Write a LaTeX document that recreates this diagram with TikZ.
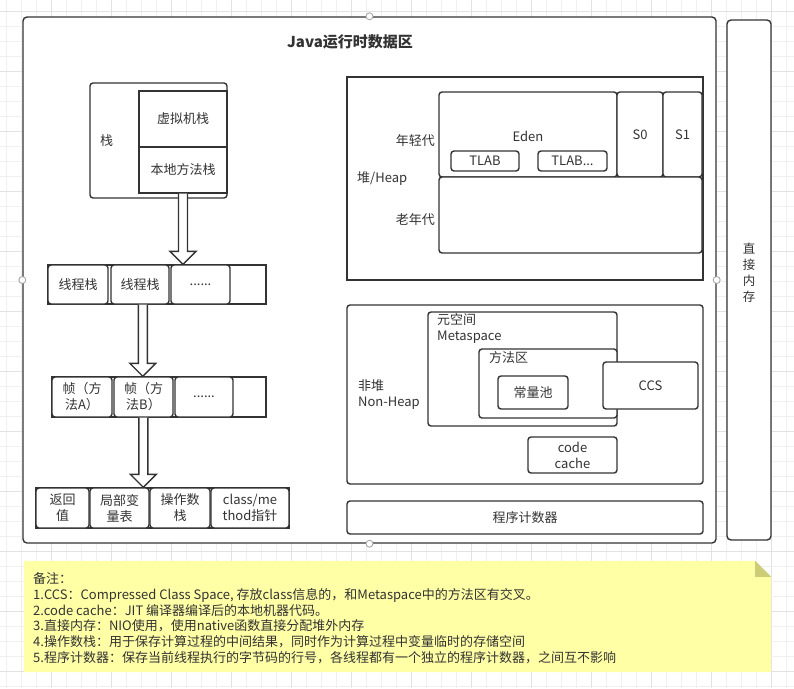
\documentclass[tikz,border=0pt]{standalone}
\usepackage{fontspec}
\setmainfont{Noto Sans CJK SC}
\usetikzlibrary{calc}
\definecolor{ln}{HTML}{333333}
\definecolor{tx}{HTML}{333333}
\definecolor{notefill}{HTML}{FFFFA6}
\definecolor{notefold}{HTML}{CDCD77}
\definecolor{gridminor}{HTML}{F0F0F0}
\definecolor{gridmajor}{HTML}{E2E2E2}
\definecolor{handlec}{HTML}{A0A0A0}
\tikzset{
  bx/.style={draw=ln, line width=1.4pt, fill=white, rounded corners=3pt, inner sep=0pt,
    align=center, text=tx, font=\fontsize{13}{16}\selectfont},
  sq/.style={rounded corners=0pt},
  lbl/.style={inner sep=0pt, align=center, text=tx, font=\fontsize{13}{16}\selectfont},
  handle/.style={circle, draw=handlec, fill=white, line width=0.8pt, minimum size=7pt, inner sep=0pt},
  hollow/.style={draw=ln, line width=1.4pt, fill=white, line join=miter},
}
\newcommand\bnode[7][]{\node[bx,#1,minimum width={#5-#3},minimum height={#6-#4}] (#2) at ({(#3+#5)/2},{(#4+#6)/2}) {#7};}
\newcommand\harrow[2]{%
  \draw[hollow] let \p1=(#1), \p2=(#2) in
    (\x1-4.5pt,\y1) -- (\x1-4.5pt,\y2+13pt) -- (\x1-13pt,\y2+13pt) -- (\x1,\y2)
    -- (\x1+13pt,\y2+13pt) -- (\x1+4.5pt,\y2+13pt) -- (\x1+4.5pt,\y1);}
\begin{document}
\begin{tikzpicture}[x=1pt,y=-1pt]
\useasboundingbox (0,0) rectangle (794,688);
\fill[white] (0,0) rectangle (794,688);
% grid
\foreach \i in {0,...,52}{
  \pgfmathtruncatemacro\m{mod(\i,4)}
  \ifnum\m=3 \draw[gridmajor,line width=0.7pt] ({6.7+15*\i},0) -- ({6.7+15*\i},688);
  \else \draw[gridminor,line width=0.7pt] ({6.7+15*\i},0) -- ({6.7+15*\i},688); \fi}
\foreach \i in {0,...,45}{
  \pgfmathtruncatemacro\m{mod(\i,4)}
  \ifnum\m=0 \draw[gridmajor,line width=0.7pt] (0,{11.7+15*\i}) -- (794,{11.7+15*\i});
  \else \draw[gridminor,line width=0.7pt] (0,{11.7+15*\i}) -- (794,{11.7+15*\i}); \fi}

% main container
\bnode[rounded corners=4pt]{main}{23}{17}{716}{543}{}
\node[lbl, font=\bfseries\fontsize{15}{18}\selectfont] (title) at (350,42) {Java运行时数据区};

% direct memory
\bnode[rounded corners=4pt]{direct}{727}{20}{771}{540}{}
\node[lbl, font=\fontsize{12.5}{16}\selectfont] (directtxt) at (749,273) {直\\接\\内\\存};

% stack
\bnode{stack}{90}{83}{227}{198}{}
\node[lbl] (stacktxt) at (106.5,141) {栈};
\bnode[sq]{vms}{139}{91}{227}{147}{虚拟机栈}
\bnode[sq]{nms}{139}{147}{227}{193}{本地方法栈}

% thread stacks
\bnode[sq]{thr}{48}{265}{266}{304}{}
\bnode{t1}{48}{265}{108}{304}{线程栈}
\bnode{t2}{111}{265}{169}{304}{线程栈}
\bnode{t3}{171}{265}{230}{304}{......}

% frames
\bnode[sq]{frm}{52}{377}{266}{417}{}
\bnode{f1}{52}{377}{112}{417}{帧（方\\法A）}
\bnode{f2}{114}{377}{173}{417}{帧（方\\法B）}
\bnode{f3}{175}{377}{233}{417}{......}

% frame contents
\bnode[sq]{bot}{36}{488}{289}{528}{}
\bnode{b1}{36}{488}{89}{528}{返回\\值}
\bnode{b2}{90}{488}{149}{528}{局部变\\量表}
\bnode{b3}{150}{488}{210}{528}{操作数\\栈}
\bnode{b4}{211}{488}{289}{528}{class/me\\thod指针}

% hollow arrows
\harrow{nms.south}{nms.south |- thr.north}
\coordinate (a2s) at ($(thr.south west)+(95.5,0)$);
\harrow{a2s}{a2s |- frm.north}
\coordinate (a3s) at ($(frm.south west)+(92,0)$);
\harrow{a3s}{a3s |- bot.north}

% heap
\bnode[sq]{heap}{347}{77}{703}{280}{}
\node[lbl, anchor=west] (heaptxt) at (357,179) {堆/Heap};
\bnode{eden}{439}{92}{617}{177}{}
\node[lbl] (edentxt) at (528,136) {Eden};
\bnode{tlab1}{451}{151}{519}{171}{TLAB}
\bnode{tlab2}{538}{151}{607}{171}{TLAB...}
\bnode{s0}{617}{92}{663}{177}{S0}
\bnode{s1}{663}{92}{702}{177}{S1}
\bnode{old}{439}{177}{702}{253}{}
\node[lbl, anchor=east] (youngtxt) at (435,141) {年轻代};
\node[lbl, anchor=east] (oldtxt) at (435,220) {老年代};

% non-heap
\bnode{nonheap}{347}{305}{703}{484}{}
\node[lbl, anchor=west, align=left] (nonheaptxt) at (358,395) {非堆\\Non-Heap};
\bnode{meta}{428}{312}{617}{426}{}
\node[lbl, anchor=west, align=left] (metatxt) at (437,328.5) {元空间\\Metaspace};
\bnode{ma}{479}{349}{617}{418}{}
\node[lbl, anchor=west] (matxt) at (489,358) {方法区};
\bnode{cp}{498}{376}{568}{409}{常量池}
\bnode{ccs}{603}{362}{698}{409}{CCS}
\bnode{cc}{528}{437}{617}{473}{code\\cache}

% program counter
\bnode{pc}{347}{501}{703}{534}{程序计数器}

% selection handles
\node[handle] (h1) at (main.north) {};
\node[handle] (h2) at (main.west) {};
\node[handle] (h3) at (main.east) {};
\node[handle] (h4) at (main.south) {};

% note
\node[inner sep=0pt, minimum width=747, minimum height=111] (note) at (397.5,616.5) {};
\fill[notefill] (note.south west) -- (note.north west) -- ($(note.north east)+(-16,0)$)
  -- ($(note.north east)+(0,16)$) -- (note.south east) -- cycle;
\fill[notefold] ($(note.north east)+(-16,0)$) -- ($(note.north east)+(0,16)$) -- ($(note.north east)+(-16,16)$) -- cycle;
\node[lbl, anchor=north west, align=left, font=\fontsize{13}{15.7}\selectfont] (notetxt) at (33,572.5) {备注：\\
1.CCS：Compressed Class Space, 存放class信息的，和Metaspace中的方法区有交叉。\\
2.code cache：JIT 编译器编译后的本地机器代码。\\
3.直接内存：NIO使用，使用native函数直接分配堆外内存\\
4.操作数栈：用于保存计算过程的中间结果，同时作为计算过程中变量临时的存储空间\\
5.程序计数器：保存当前线程执行的字节码的行号，各线程都有一个独立的程序计数器，之间互不影响};
\end{tikzpicture}
\end{document}
